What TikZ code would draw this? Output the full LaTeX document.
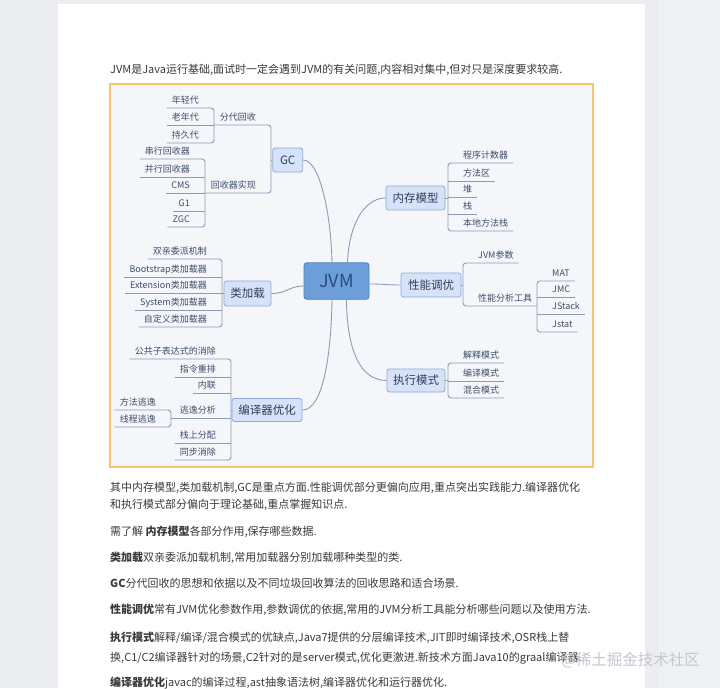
\documentclass[tikz,border=0pt]{standalone}
\usepackage{fontspec}
\setmainfont{Noto Sans CJK SC}
\definecolor{pagebg}{HTML}{ECEDF1}
\definecolor{sidebg}{HTML}{F0F1F4}
\definecolor{mapbg}{HTML}{F4F6FA}
\definecolor{mapframe}{HTML}{F5C56E}
\definecolor{boxfill}{HTML}{D6E2F8}
\definecolor{boxdraw}{HTML}{8FA8DA}
\definecolor{jvmfill}{HTML}{6C9FDA}
\definecolor{jvmdraw}{HTML}{4F7FC2}
\definecolor{jvmtext}{HTML}{2A4A80}
\definecolor{maintext}{HTML}{2F3E5E}
\definecolor{leaftext}{HTML}{3F4D68}
\definecolor{linkcol}{HTML}{8D9BB6}
\definecolor{bodytext}{HTML}{3A3A3A}
\definecolor{wmcol}{HTML}{C4C7CF}
\tikzset{
 lnk/.style={draw=linkcol, line width=0.9},
 brk/.style={lnk, rounded corners=3},
 topic/.style={draw=boxdraw, fill=boxfill, rounded corners=2.5, line width=0.8, text=maintext,
   font=\fontsize{11.5}{12}\selectfont, inner sep=0, minimum height=24},
 leaf/.style={font=\fontsize{9}{10}\selectfont, text=leaftext, inner xsep=5, inner ysep=3.5,
   text height=7, text depth=1.2},
 body/.style={anchor=base west, inner sep=0, text=bodytext, font=\fontsize{11}{13}\selectfont},
}
\begin{document}
\begin{tikzpicture}[x=1pt,y=-1pt]
\useasboundingbox (0,0) rectangle (720,688);
\fill[pagebg] (0,0) rectangle (720,688);
\fill[sidebg] (659,0) rectangle (720,688);
\fill[white] (58,4) rectangle (645,688);
\draw[mapframe, line width=1.5, fill=mapbg] (110,84) rectangle (593,467);

% ---------- GC ----------
\node[leaf, anchor=south east] (g1) at (204,108) {年轻代};
\node[leaf, anchor=south east] (g2) at (204,125) {老年代};
\node[leaf, anchor=south east] (g3) at (204,143) {持久代};
\coordinate (gAbr) at ([xshift=10]g2.south east);
\node[leaf, anchor=south east] (gA) at (261,125) {分代回收};
\node[leaf, anchor=south east] (g4) at (195,159) {串行回收器};
\node[leaf, anchor=south east] (g5) at (195,177) {并行回收器};
\node[leaf, anchor=south east] (g6) at (195,193) {CMS};
\node[leaf, anchor=south east] (g7) at (195,211) {G1};
\node[leaf, anchor=south east] (g8) at (195,227) {ZGC};
\coordinate (gBbr) at ([xshift=10]g4.south east);
\node[leaf, anchor=south east] (gB) at (261,193) {回收器实现};
\node[topic, minimum width=30, minimum height=24] (GC) at (287.7,160) {GC};
\coordinate (GCbr) at ([xshift=10]gA.south east);
\draw[brk] (g1.south west) -- (gAbr |- g1.south) -- (gAbr |- g3.south) -- (g3.south west);
\draw[lnk] (g2.south west) -- (gAbr);
\draw[brk] (g4.south west) -- (gBbr |- g4.south) -- (gBbr |- g8.south) -- (g8.south west);
\draw[lnk] (g5.south west) -- (gBbr |- g5.south);
\draw[lnk] (g6.south west) -- (gBbr |- g6.south);
\draw[lnk] (g7.south west) -- (gBbr |- g7.south);
\draw[brk] (gAbr |- gA.south) -- (GCbr) -- (GCbr |- gB.south) -- (gBbr |- gB.south);
\draw[lnk] (GC.west) -- (GCbr |- GC.west);

% ---------- 类加载 ----------
\node[leaf, anchor=south east] (c1) at (212,259) {双亲委派机制};
\node[leaf, anchor=south east] (c2) at (212,277) {Bootstrap类加载器};
\node[leaf, anchor=south east] (c3) at (212,293) {Extension类加载器};
\node[leaf, anchor=south east] (c4) at (212,310) {System类加载器};
\node[leaf, anchor=south east] (c5) at (212,327) {自定义类加载器};
\coordinate (CLbr) at ([xshift=10]c1.south east);
\node[topic, minimum width=47, minimum height=25] (CL) at (247.5,293.5) {类加载};
\draw[brk] (c1.south west) -- (CLbr) -- (CLbr |- c5.south) -- (c5.south west);
\draw[lnk] (c2.south west) -- (CLbr |- c2.south);
\draw[lnk] (c3.south west) -- (CLbr |- c3.south);
\draw[lnk] (c4.south west) -- (CLbr |- c4.south);
\draw[lnk] (CL.west) -- (CLbr |- CL.west);

% ---------- 编译器优化 ----------
\node[leaf, anchor=south east] (e1) at (221,359) {公共子表达式的消除};
\node[leaf, anchor=south east] (e2) at (221,377) {指令重排};
\node[leaf, anchor=south east] (e3) at (221,393) {内联};
\node[leaf, anchor=south east] (eA) at (221,418) {逃逸分析};
\node[leaf, anchor=south east] (e6) at (221,443) {栈上分配};
\node[leaf, anchor=south east] (e7) at (221,460) {同步消除};
\node[leaf, anchor=south east] (e4) at (161,410) {方法逃逸};
\node[leaf, anchor=south east] (e5) at (161,427) {线程逃逸};
\coordinate (BObr) at ([xshift=10]e1.south east);
\coordinate (eAbr) at ([xshift=10]e4.south east);
\node[topic, minimum width=70, minimum height=23] (BO) at (267,410) {编译器优化};
\draw[brk] (e1.south west) -- (BObr) -- (BObr |- e7.south) -- (e7.south west);
\draw[lnk] (e2.south west) -- (BObr |- e2.south);
\draw[lnk] (e3.south west) -- (BObr |- e3.south);
\draw[lnk] (e6.south west) -- (BObr |- e6.south);
\draw[lnk] (eAbr |- eA.south) -- (BObr |- eA.south);
\draw[brk] (e4.south west) -- (eAbr) -- (eAbr |- e5.south) -- (e5.south west);
\draw[lnk] (BO.west) -- (BObr |- BO.west);

% ---------- 内存模型 ----------
\node[leaf, anchor=south west] (m1) at (458,163) {程序计数器};
\node[leaf, anchor=south west] (m2) at (458,181) {方法区};
\node[leaf, anchor=south west] (m3) at (458,197) {堆};
\node[leaf, anchor=south west] (m4) at (458,214) {栈};
\node[leaf, anchor=south west] (m5) at (458,231) {本地方法栈};
\coordinate (NCbr) at ([xshift=-10]m1.south west);
\node[topic, minimum width=59] (NC) at (415.5,198) {内存模型};
\draw[brk] (m1.south east) -- (NCbr) -- (NCbr |- m5.south) -- (m5.south east);
\draw[lnk] (NCbr |- m2.south) -- (m2.south east);
\draw[lnk] (NCbr |- m3.south) -- (m3.south east);
\draw[lnk] (NCbr |- m4.south) -- (m4.south east);
\draw[lnk] (NC.east) -- (NCbr |- NC.east);

% ---------- 性能调优 ----------
\node[leaf, anchor=south west] (p1) at (473,263) {JVM参数};
\node[leaf, anchor=south west] (pA) at (473,306) {性能分析工具};
\node[leaf, anchor=south west] (p2) at (547,281) {MAT};
\node[leaf, anchor=south west] (p3) at (547,297) {JMC};
\node[leaf, anchor=south west] (p4) at (547,314) {JStack};
\node[leaf, anchor=south west] (p5) at (547,332) {Jstat};
\coordinate (XNbr) at ([xshift=-10]p1.south west);
\coordinate (pAbr) at ([xshift=-10]p2.south west);
\node[topic, minimum width=60] (XN) at (431,285) {性能调优};
\draw[brk] (p1.south east) -- (XNbr) -- (XNbr |- pA.south) -- (pAbr |- pA.south);
\draw[brk] (p2.south east) -- (pAbr) -- (pAbr |- p5.south) -- (p5.south east);
\draw[lnk] (pAbr |- p3.south) -- (p3.south east);
\draw[lnk] (pAbr |- p4.south) -- (p4.south east);
\draw[lnk] (XN.east) -- (XNbr |- XN.east);

% ---------- 执行模式 ----------
\node[leaf, anchor=south west] (x1) at (458,363) {解释模式};
\node[leaf, anchor=south west] (x2) at (458,381) {编译模式};
\node[leaf, anchor=south west] (x3) at (458,398) {混合模式};
\coordinate (ZXbr) at ([xshift=-10]x1.south west);
\node[topic, minimum width=58, minimum height=23] (ZX) at (416,380.5) {执行模式};
\draw[brk] (x1.south east) -- (ZXbr) -- (ZXbr |- x3.south) -- (x3.south east);
\draw[lnk] (ZXbr |- x2.south) -- (x2.south east);
\draw[lnk] (ZX.east) -- (ZXbr |- ZX.east);

% ---------- JVM ----------
\node[topic, fill=jvmfill, draw=jvmdraw, text=jvmtext, line width=0.9, rounded corners=3,
  minimum width=65, minimum height=36.5, font=\fontsize{18}{18}\selectfont] (JVM) at (336.5,281) {JVM};
\draw[lnk] ([xshift=-4.5]JVM.north) .. controls (331,215) and (320,160) .. (GC.east);
\draw[lnk] ([xshift=11]JVM.north) .. controls (349,225) and (364,198) .. (NC.west);
\draw[lnk] ([yshift=-3]JVM.east) .. controls (385,284) and (387,285) .. (XN.west);
\draw[lnk] ([yshift=-5]JVM.west) .. controls (289,286) and (287,293.5) .. (CL.east);
\draw[lnk] ([xshift=-4.5]JVM.south) .. controls (331,360) and (322,410) .. (BO.east);
\draw[lnk] ([xshift=10]JVM.south) .. controls (347,350) and (360,380.5) .. (ZX.west);

% ---------- body text ----------
\node[body] (t0) at (110,73) {JVM是Java运行基础,面试时一定会遇到JVM的有关问题,内容相对集中,但对只是深度要求较高.};
\node[body] (t1) at (110,491) {其中内存模型,类加载机制,GC是重点方面.性能调优部分更偏向应用,重点突出实践能力.编译器优化};
\node[body] (t2) at (110,508) {和执行模式部分偏向于理论基础,重点掌握知识点.};
\node[body] (t3) at (110,535) {需了解 \textbf{内存模型}各部分作用,保存哪些数据.};
\node[body] (t4) at (110,561) {\textbf{类加载}双亲委派加载机制,常用加载器分别加载哪种类型的类.};
\node[body] (t5) at (110,587) {\textbf{GC}分代回收的思想和依据以及不同垃圾回收算法的回收思路和适合场景.};
\node[body] (t6) at (110,613) {\textbf{性能调优}常有JVM优化参数作用,参数调优的依据,常用的JVM分析工具能分析哪些问题以及使用方法.};
\node[body] (t7) at (110,641) {\textbf{执行模式}解释/编译/混合模式的优缺点,Java7提供的分层编译技术,JIT即时编译技术,OSR栈上替};
\node[body] (t8) at (110,661) {换,C1/C2编译器针对的场景,C2针对的是server模式,优化更激进.新技术方面Java10的graal编译器.};
\node[body] (t9) at (110,686) {\textbf{编译器优化}javac的编译过程,ast抽象语法树,编译器优化和运行器优化.};
\node[anchor=base west, inner sep=0, text=wmcol, font=\fontsize{15.5}{16}\selectfont] (wm) at (561,665) {@稀土掘金技术社区};
\end{tikzpicture}
\end{document}
